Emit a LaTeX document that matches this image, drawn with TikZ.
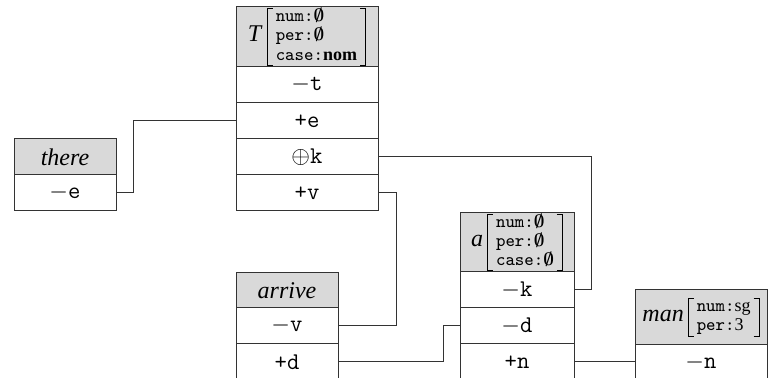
\documentclass[tikz,border=0pt]{standalone}
\usepackage{fontspec}
\setmainfont{Liberation Serif}
\usetikzlibrary{positioning}

% feature bundle between square brackets built from rules
\newsavebox{\fmbox}
\newlength{\fmh}
\newlength{\fmd}
\newcommand{\fmtick}{\lower\fmd\vbox to \dimexpr\fmh+\fmd\relax{\hrule width 2.5pt height 0.5pt\vfil\hrule width 2.5pt height 0.5pt}}
\newcommand{\featmat}[1]{%
    \sbox{\fmbox}{\fontsize{9}{9.6}\selectfont\begin{tabular}{@{}l@{}}#1\end{tabular}}%
    \setlength{\fmh}{\ht\fmbox}\setlength{\fmd}{\dp\fmbox}%
    \vrule width 0.5pt height\fmh depth\fmd\fmtick\kern1.5pt\usebox{\fmbox}%
    \kern1.5pt\fmtick\vrule width 0.5pt height\fmh depth\fmd}
\newcommand{\nil}{{\boldmath$\emptyset$}}

\begin{document}
\begin{tikzpicture}[
    x=0.5pt, y=-0.5pt,
    every node/.style={draw=black!80, line width=0.5pt, outer sep=0pt, inner sep=1pt,
        font=\fontsize{12}{14}\selectfont},
    head/.style={fill=gray!30, anchor=north west, inner sep=0pt},
    cell/.style={fill=white, minimum height=18pt, below=0pt of #1},
    link/.style={draw=black!80, line width=0.5pt}
]
    \useasboundingbox (0,0) rectangle (771,378);
    \clip (0,0) rectangle (771,378);

    % T
    \node[head, minimum width=71pt, minimum height=30pt] (T) at (236,7)
        {\textit{T}\,\featmat{\texttt{num:}\nil\\ \texttt{per:}\nil\\ \texttt{case:}\textbf{nom}}};
    \node[cell=T, minimum width=71pt] (T-t) {\texttt{$-$t}};
    \node[cell=T-t, minimum width=71pt] (T-e) {\texttt{+e}};
    \node[cell=T-e, minimum width=71pt] (T-k) {$\oplus$\texttt{k}};
    \node[cell=T-k, minimum width=71pt] (T-v) {\texttt{+v}};

    % there
    \node[head, minimum width=51pt, minimum height=18pt] (there) at (14,139) {\textit{there}};
    \node[cell=there, minimum width=51pt] (there-e) {\texttt{$-$e}};

    % arrive
    \node[head, minimum width=51pt, minimum height=17.5pt] (arrive) at (236,273) {\textit{arrive}};
    \node[cell=arrive, minimum width=51pt] (arrive-v) {\texttt{$-$v}};
    \node[cell=arrive-v, minimum width=51pt] (arrive-d) {\texttt{+d}};

    % a
    \node[head, minimum width=57pt, minimum height=29.5pt] (a) at (460,213)
        {\textit{a}\,\featmat{\texttt{num:}\nil\\ \texttt{per:}\nil\\ \texttt{case:}\nil}};
    \node[cell=a, minimum width=57pt] (a-k) {\texttt{$-$k}};
    \node[cell=a-k, minimum width=57pt] (a-d) {\texttt{$-$d}};
    \node[cell=a-d, minimum width=57pt] (a-n) {\texttt{+n}};

    % man
    \node[head, minimum width=66pt, minimum height=27.5pt] (man) at (635,290)
        {\textit{man}\,\featmat{\texttt{num:}sg\\ \texttt{per:}3}};
    \node[cell=man, minimum width=66pt] (man-n) {\texttt{$-$n}};

    % links
    \draw[link] (there-e.east) -- ++(17,0) |- (T-e.west);
    \draw[link] (T-k.east) -- ++(213,0) |- (a-k.east);
    \draw[link] (T-v.east) -- ++(18,0) |- (arrive-v.east);
    \draw[link] (arrive-d.east) -- ++(105,0) |- (a-d.west);
    \draw[link] (a-n.east) -- (a-n.east -| man-n.west);
\end{tikzpicture}
\end{document}
